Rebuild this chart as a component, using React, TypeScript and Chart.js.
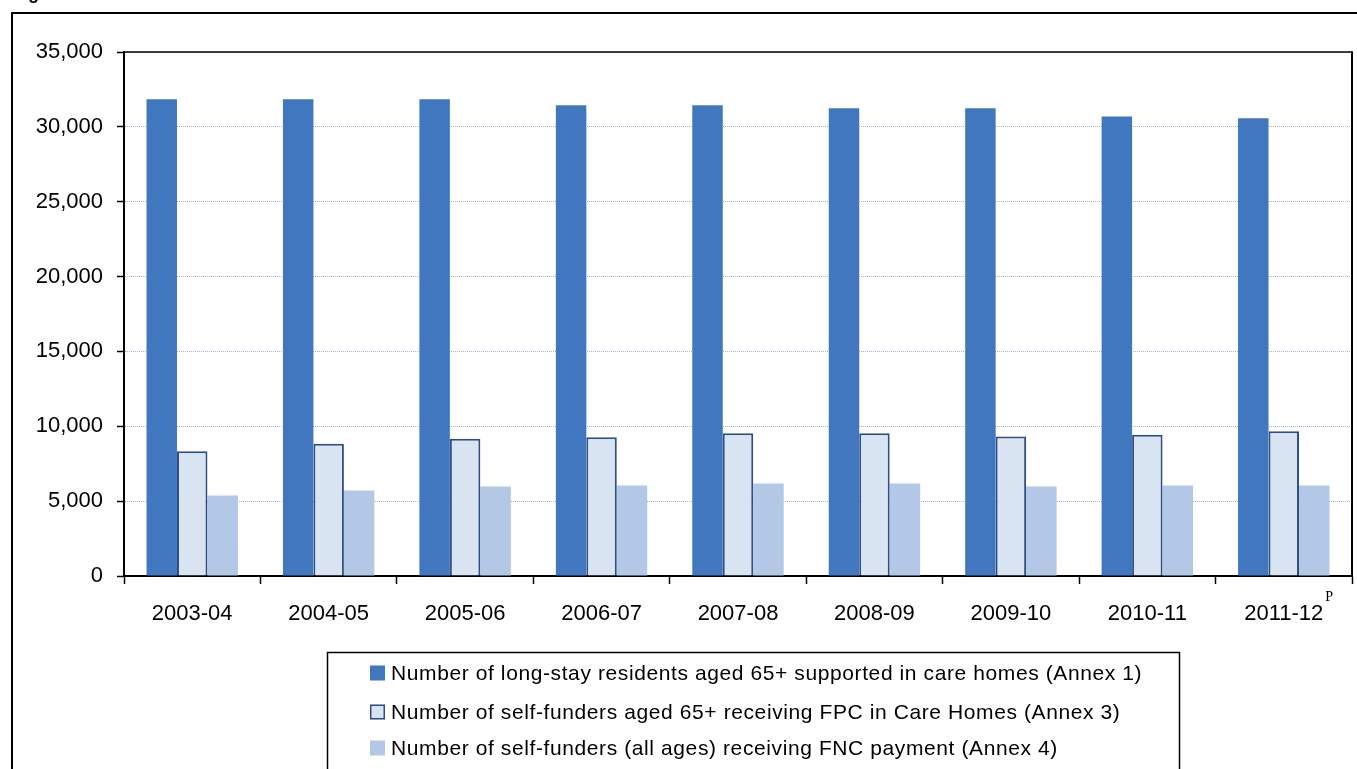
import { useEffect, useRef } from 'react';
import { Chart, registerables } from 'chart.js';

Chart.register(...registerables);

const categories = ['2003-04', '2004-05', '2005-06', '2006-07', '2007-08', '2008-09', '2009-10', '2010-11', '2011-12'];
const provisionalIndex = 8;
const provisionalMark = 'P';

const residentsLabel = 'Number of long-stay residents aged 65+ supported in care homes (Annex 1)';
const residents = [31850, 31850, 31850, 31450, 31450, 31250, 31250, 30700, 30580];

const fpcLabel = 'Number of self-funders aged 65+ receiving FPC in Care Homes (Annex 3)';
const fpc = [8330, 8830, 9160, 9270, 9530, 9530, 9310, 9430, 9670];

const fncLabel = 'Number of self-funders (all ages) receiving FNC payment (Annex 4)';
const fnc = [5380, 5710, 5980, 6050, 6180, 6180, 5980, 6050, 6050];

const yMin = 0;
const yMax = 35000;
const yStep = 5000;

const titleText = 'Figure';

const FONT = "'Liberation Sans', Arial, sans-serif";
const BLUE = '#4177BF';
const PALE = '#D9E4F2';
const PALE_BORDER = '#2F4F80';
const MID = '#B3C7E6';

const decorPlugin = {
  id: 'decor',
  afterDraw(chart: any) {
    const { ctx, chartArea } = chart;
    ctx.save();
    // outer frame
    ctx.strokeStyle = '#000';
    ctx.lineWidth = 2;
    ctx.strokeRect(12, 13, 2000, 2000);
    // cut-off title
    ctx.fillStyle = '#000';
    ctx.font = `bold 18px ${FONT}`;
    ctx.textBaseline = 'alphabetic';
    ctx.textAlign = 'left';
    ctx.fillText(titleText, 12, -1);
    // plot area top & right border
    ctx.beginPath();
    ctx.lineWidth = 1.5;
    ctx.moveTo(chartArea.left, chartArea.top);
    ctx.lineTo(chartArea.right, chartArea.top);
    ctx.stroke();
    ctx.beginPath();
    ctx.lineWidth = 2;
    ctx.moveTo(chartArea.right, chartArea.top - 0.75);
    ctx.lineTo(chartArea.right, chartArea.bottom);
    ctx.stroke();

    // provisional superscript
    const xs = chart.scales.x;
    const cx = xs.getPixelForValue(provisionalIndex);
    ctx.font = `22px ${FONT}`;
    const w = ctx.measureText(categories[provisionalIndex]).width;
    ctx.font = `14px 'Liberation Serif', 'Times New Roman', serif`;
    ctx.textBaseline = 'middle';
    ctx.fillText(provisionalMark, cx + w / 2 + 2, 597);

    // legend
    const lx = 327.5;
    const ly = 652.5;
    ctx.lineWidth = 1.5;
    ctx.strokeStyle = '#000';
    ctx.strokeRect(lx, ly, 852, 300);
    const rows = [673, 712, 748];
    chart.data.datasets.forEach((ds: any, i: number) => {
      const y = rows[i];
      ctx.fillStyle = ds.backgroundColor;
      ctx.fillRect(370, y - 7.5, 15, 15);
      if (ds.borderWidth) {
        ctx.strokeStyle = ds.borderColor;
        ctx.lineWidth = 1.5;
        ctx.strokeRect(370.75, y - 6.75, 13.5, 13.5);
      }
      ctx.fillStyle = '#000';
      ctx.font = `21px ${FONT}`;
      (ctx as any).letterSpacing = '0.6px';
      ctx.textBaseline = 'middle';
      ctx.textAlign = 'left';
      ctx.fillText(ds.label, 391, y + 1);
      (ctx as any).letterSpacing = '0px';
    });
    ctx.restore();
  },
};

export default function App() {
  const ref = useRef<HTMLCanvasElement | null>(null);

  useEffect(() => {
    if (!ref.current) return;
    const chart = new Chart(ref.current, {
      type: 'bar',
      data: {
        labels: categories,
        datasets: [
          { label: residentsLabel, data: residents, backgroundColor: BLUE, borderWidth: 0 },
          { label: fpcLabel, data: fpc, backgroundColor: PALE, borderColor: PALE_BORDER, borderWidth: 2 },
          { label: fncLabel, data: fnc, backgroundColor: MID, borderWidth: 0 },
        ],
      },
      options: {
        animation: false,
        responsive: false,
        maintainAspectRatio: false,
        devicePixelRatio: 1,
        layout: { padding: { left: 0, top: 52, right: 5, bottom: 143 } },
        datasets: { bar: { categoryPercentage: 0.67, barPercentage: 1 } },
        plugins: { legend: { display: false }, tooltip: { enabled: false }, title: { display: false } },
        scales: {
          x: {
            grid: { display: true, drawOnChartArea: false, drawTicks: true, tickLength: 8, tickColor: '#000', tickWidth: 1.5, offset: true },
            border: { display: true, color: '#000', width: 2 },
            ticks: { color: '#000', font: { family: FONT, size: 22 }, padding: 17, maxRotation: 0 },
            afterFit: (s: any) => { s.height = 50; },
          },
          y: {
            min: yMin,
            max: yMax,
            ticks: {
              stepSize: yStep,
              color: '#000',
              font: { family: FONT, size: 22 },
              padding: 14,
              callback: (v: any) => Number(v).toLocaleString('en-US'),
            },
            grid: { color: '#AEAED6', lineWidth: 1, tickColor: '#000', tickLength: 7, tickWidth: 1.5, tickBorderDash: [] },
            border: { display: true, color: '#000', width: 2, dash: [1, 1] },
            afterFit: (s: any) => { s.width = 124; },
          },
        },
      },
      plugins: [decorPlugin],
    });
    return () => chart.destroy();
  }, []);

  return (
    <div style={{ position: 'absolute', left: 0, top: 0, width: 1357, height: 769, overflow: 'hidden', background: '#fff' }}>
      <canvas ref={ref} width={1357} height={769} style={{ position: 'absolute', left: 0, top: 0, width: 1357, height: 769 }} />
    </div>
  );
}
